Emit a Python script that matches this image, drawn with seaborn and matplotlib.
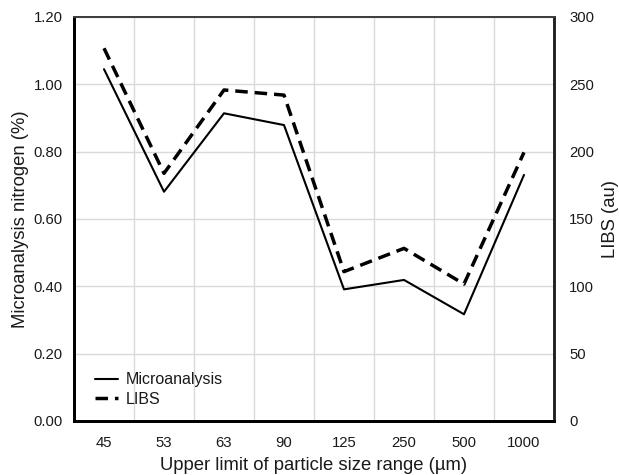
import matplotlib
matplotlib.use("Agg")
import matplotlib.pyplot as plt
import seaborn as sns
import pandas as pd
import numpy as np
from matplotlib.ticker import FormatStrFormatter, MultipleLocator

categories = ["45", "53", "63", "90", "125", "250", "500", "1000"]
microanalysis = [1.045, 0.681, 0.914, 0.879, 0.391, 0.419, 0.317, 0.731]
libs = [276.8, 183.9, 245.8, 242.0, 110.9, 128.2, 101.7, 199.5]
left_ticks = [0.0, 0.2, 0.4, 0.6, 0.8, 1.0, 1.2]
right_ticks = [0, 50, 100, 150, 200, 250, 300]

sns.set_theme(style="white")
plt.rcParams["font.family"] = ["Liberation Sans", "DejaVu Sans"]

df = pd.DataFrame({"size": categories, "micro": microanalysis, "libs": libs})

fig = plt.figure(figsize=(6.19, 4.75), dpi=100)
ax = fig.add_axes([74/619, 54/475, 480/619, 404/475])
ax2 = ax.twinx()

sns.lineplot(data=df, x="size", y="micro", ax=ax, color="black", lw=1.5, sort=False)
sns.lineplot(data=df, x="size", y="libs", ax=ax2, color="black", lw=2.5, sort=False)
ax2.lines[0].set_dashes([3.6, 2.0])

ax.set_xlim(-0.5, len(categories) - 0.5)
ax.set_ylim(0, 1.2)
ax2.set_ylim(0, 300)
ax.set_yticks(left_ticks)
ax2.set_yticks(right_ticks)
ax.yaxis.set_major_formatter(FormatStrFormatter("%.2f"))

ax.xaxis.set_minor_locator(MultipleLocator(1, offset=0.5))
ax.grid(True, which="major", axis="y", color="#d9d9d9", lw=1)
ax.grid(True, which="minor", axis="x", color="#d9d9d9", lw=1)
ax.grid(False, which="major", axis="x")
ax.set_axisbelow(True)

txt = "#1a1a1a"
ax.tick_params(axis="both", which="both", length=0, labelsize=10.7, colors=txt)
ax.tick_params(axis="y", pad=8)
ax.tick_params(axis="x", pad=11)
ax2.tick_params(axis="y", which="both", length=0, labelsize=10.7, colors=txt, pad=10.8)

ax.set_xlabel("Upper limit of particle size range (µm)", fontsize=13.3, labelpad=5, color=txt)
ax.set_ylabel("Microanalysis nitrogen (%)", fontsize=13.3, labelpad=3.5, color=txt)
ax2.set_ylabel("LIBS (au)", fontsize=13.3, labelpad=6, color=txt)

for a in (ax, ax2):
    for s in ["left", "bottom"]:
        a.spines[s].set_color("black")
        a.spines[s].set_linewidth(2.0)
    a.spines["top"].set_color("#404040")
    a.spines["top"].set_linewidth(1.4)
    a.spines["right"].set_color("#202020")
    a.spines["right"].set_linewidth(1.8)

h1 = ax.lines[0]
h2 = ax2.lines[0]
leg = ax.legend([h1, h2], ["Microanalysis", "LIBS"], loc="lower left",
                bbox_to_anchor=(0.044, 0.035), borderaxespad=0, borderpad=0,
                frameon=False, fontsize=11.5,
                handlelength=1.45, handletextpad=0.45, labelspacing=0.28)
for t in leg.get_texts():
    t.set_color(txt)

fig.savefig("out.png", dpi=100)
